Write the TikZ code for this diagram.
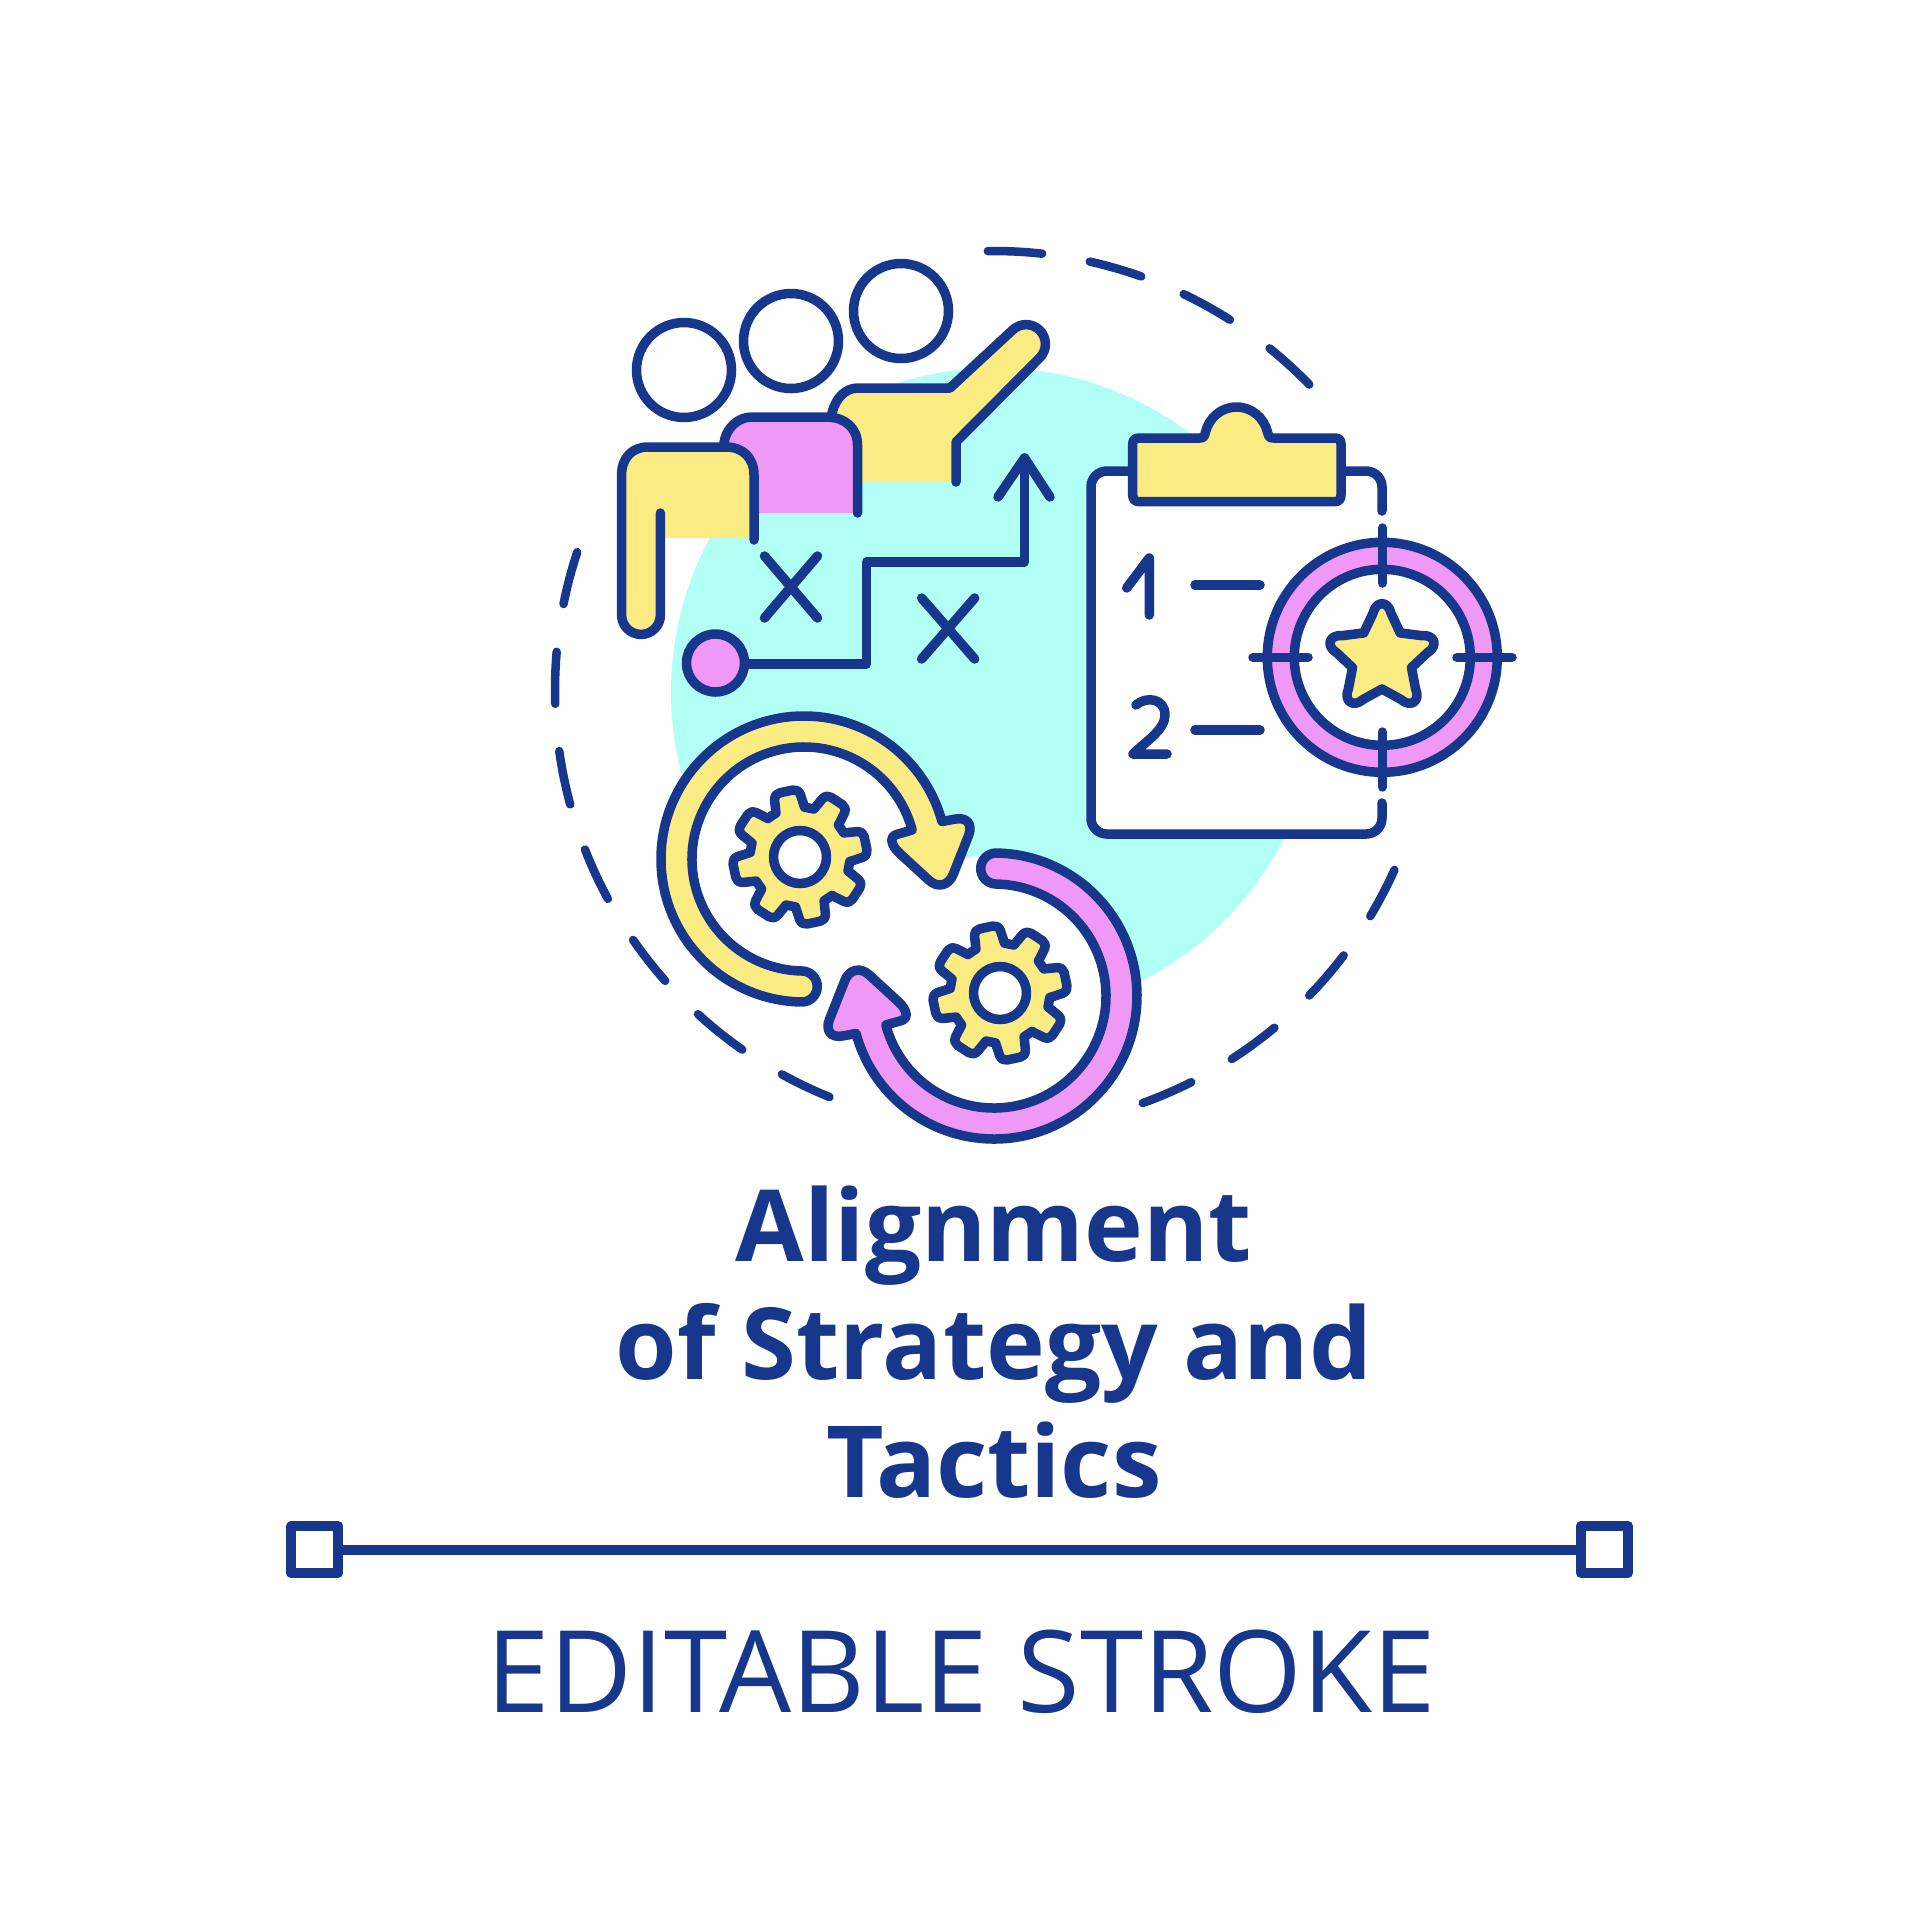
\documentclass[tikz,border=0pt]{standalone}
\usepackage{fontspec}
\setmainfont{Open Sans}
\definecolor{navy}{HTML}{17378C}
\definecolor{teal}{HTML}{B2FFF5}
\definecolor{sun}{HTML}{FAEC82}
\definecolor{orchid}{HTML}{F098F5}
\tikzset{
  ink/.style={draw=navy,line width=0.095cm,line cap=round,line join=round},
  dashpiece/.style={ink,line width=0.085cm},
  handle/.style={draw=navy,line width=0.1cm,line join=round,minimum size=0.47cm,inner sep=0pt},
}
% one turning arrow, drawn round its own centre
\newcommand{\turnarrow}[1]{%
  \filldraw[ink,fill=#1] (0,0) ++(91:143) arc (91:344.8:143)
    -- (151,-39.9) .. controls (162.9,-42.2) and (169,-34.8) .. (164.6,-23.6)
    -- (149.1,15.6) .. controls (144.6,26.8) and (133.7,29.3) .. (124.8,21.1)
    -- (95.5,-5.8) .. controls (86.6,-14) and (85.3,-22.5) .. (92.7,-24.6)
    -- (345:112) arc (345:91:112) arc (-89:91:15.5) -- cycle;
}
% one gear with eight teeth
\newcommand{\geardraw}{%
  \filldraw[ink,fill=sun] (-124.8:50)
    \foreach \a in {-101.8,-56.8,-11.8,33.2,78.2,123.2,168.2,213.2}
      { -- ({\a-17}:50) -- ({\a-12.2}:62.4) .. controls ({\a-10.2}:66.5) .. ({\a-5.5}:67.3)
        -- ({\a+5.5}:67.3) .. controls ({\a+10.2}:66.5) .. ({\a+12.2}:62.4) -- ({\a+17}:50) } -- cycle;
  \filldraw[ink,fill=white] (0,0) circle (26.5);
}
\begin{document}
\begin{tikzpicture}[x=0.01cm,y=0.01cm,yscale=-1]
  \useasboundingbox (0,0) rectangle (1920,1920);
  \fill[white] (0,0) rectangle (1920,1920);
  \fill[teal] (995,692) circle (324);
  % dashed ring
  \foreach \a/\b in {-90.8/-83.7,-77.4/-70.4,-64.4/-57.5,-51.1/-44.1,
    24.2/31,37.2/44.1,50.3/57.2,63.3/70.2,
    112/118.9,125/132.4,138.5/145.3,151.6/158.7,164.9/172,178.2/185,191.3/198.3}
    \draw[dashpiece] (994,690) ++(\a:439) arc (\a:\b:439);
  % people
  \draw[ink] (684,370) circle (47.5);
  \draw[ink] (791,341) circle (47.5);
  \draw[ink] (901,311) circle (47.5);
  \fill[sun] (832,413) .. controls (836,397) and (846,388) .. (858,388) -- (950,388)
    -- (1012.3,330.3) arc (225:405:19.4) -- (956,442) -- (956,482) -- (832,482) -- cycle;
  \draw[ink] (832,413) .. controls (836,397) and (846,388) .. (858,388) -- (950,388)
    -- (1012.3,330.3) arc (225:405:19.4) -- (956,442) -- (956,482);
  \fill[orchid] (724,443) .. controls (726,428) and (738,417) .. (752,417) -- (826,417)
    .. controls (845,417) and (857.5,428) .. (857.5,445) -- (857.5,513) -- (724,513) -- cycle;
  \draw[ink] (724,443) .. controls (726,428) and (738,417) .. (752,417) -- (826,417)
    .. controls (845,417) and (857.5,428) .. (857.5,445) -- (857.5,513);
  \fill[sun] (621.6,615) -- (621.6,475) .. controls (621.6,458) and (632,447) .. (648,447)
    -- (726,447) .. controls (743,447) and (754,458) .. (754,475) -- (754,538) -- (660.4,538)
    -- (660.4,615) arc (0:180:19.4) -- cycle;
  \draw[ink] (660.4,513) -- (660.4,615) arc (0:180:19.4) -- (621.6,475)
    .. controls (621.6,458) and (632,447) .. (648,447) -- (726,447)
    .. controls (743,447) and (754,458) .. (754,475) -- (754,540);
  % route on the plan
  \draw[ink] (764.5,556) -- (817.5,618);
  \draw[ink] (817.5,556) -- (764.5,618);
  \draw[ink] (921.6,598) -- (974.7,659);
  \draw[ink] (974.7,598) -- (921.6,659);
  \draw[ink] (744.5,664) -- (866.5,664) -- (866.5,562) -- (1024.5,562) -- (1024.5,458);
  \draw[ink] (998,497) -- (1024.5,458) -- (1050,497);
  \filldraw[ink,fill=orchid] (715.5,663) circle (29);
  % clipboard
  \fill[white] (1091,471) rectangle (1382,834);
  \draw[ink,rounded corners=4.5pt] (1133,471) -- (1091,471) -- (1091,834) -- (1382,834) -- (1382,803);
  \draw[ink,rounded corners=4.5pt] (1382,511) -- (1382,471) -- (1341,471);
  \filldraw[ink,fill=sun] (1139,438) -- (1200,438) .. controls (1204,438) and (1204.5,436) .. (1205.5,432)
    .. controls (1209,418) and (1221,407) .. (1236.5,407) .. controls (1252,407) and (1264,418) .. (1267.5,432)
    .. controls (1268.5,436) and (1269,438) .. (1273,438) -- (1335,438)
    .. controls (1339,438) and (1341,440) .. (1341,444) -- (1341,495)
    .. controls (1341,499) and (1339,501.7) .. (1335,501.7) -- (1139,501.7)
    .. controls (1135,501.7) and (1132.7,499) .. (1132.7,495) -- (1132.7,444)
    .. controls (1132.7,440) and (1135,438) .. (1139,438) -- cycle;
  \draw[ink] (1126.7,588) -- (1149.3,558) -- (1149.3,615);
  \draw[ink] (1136,705) .. controls (1146,696) and (1165,698) .. (1165,715)
    .. controls (1165,730) and (1145,742) .. (1133,754) -- (1167,754);
  \draw[ink] (1195,585) -- (1260,585);
  \draw[ink] (1195,730) -- (1260,730);
  % target with the star
  \filldraw[ink,fill=orchid] (1382.3,657.3) circle (115);
  \filldraw[ink,fill=white] (1382.3,657.3) circle (88);
  \draw[ink] (1382.3,528) -- (1382.3,583);
  \draw[ink] (1382.3,732) -- (1382.3,787);
  \draw[ink] (1253,657.3) -- (1308,657.3);
  \draw[ink] (1457,657.3) -- (1512,657.3);
  \begin{scope}[shift={(1382,658)}]
    \filldraw[ink,fill=sun] (-126:31)
      \foreach \a in {-90,-18,54,126,198}
        { -- ({\a-11.6}:45.4) .. controls ({\a-6}:58) and ({\a+6}:58) .. ({\a+11.6}:45.4) -- ({\a+36}:31) } -- cycle;
  \end{scope}
  % turning arrows and gears
  \fill[white] (804,859) circle (141);
  \fill[white] (994,996) circle (141);
  \begin{scope}[shift={(804,859)}] \turnarrow{sun} \end{scope}
  \begin{scope}[shift={(994,996)},rotate=180] \turnarrow{orchid} \end{scope}
  \begin{scope}[shift={(800,857)}] \geardraw \end{scope}
  \begin{scope}[shift={(1000,993)}] \geardraw \end{scope}
  % titles
  \node[text=navy,align=center,font=\bfseries\fontsize{28.3}{33.6}\selectfont] (title) at (994,1342)
    {Alignment\\of Strategy and\\Tactics};
  \node[text=navy,font=\fontsize{32.4}{36}\selectfont] (stroke) at (961,1672) {EDITABLE STROKE};
  % rule with two handles
  \node[handle] (left) at (314.7,1549.5) {};
  \node[handle] (right) at (1604.5,1549.5) {};
  \draw[navy,line width=0.1cm] (left) -- (right);
\end{tikzpicture}
\end{document}
